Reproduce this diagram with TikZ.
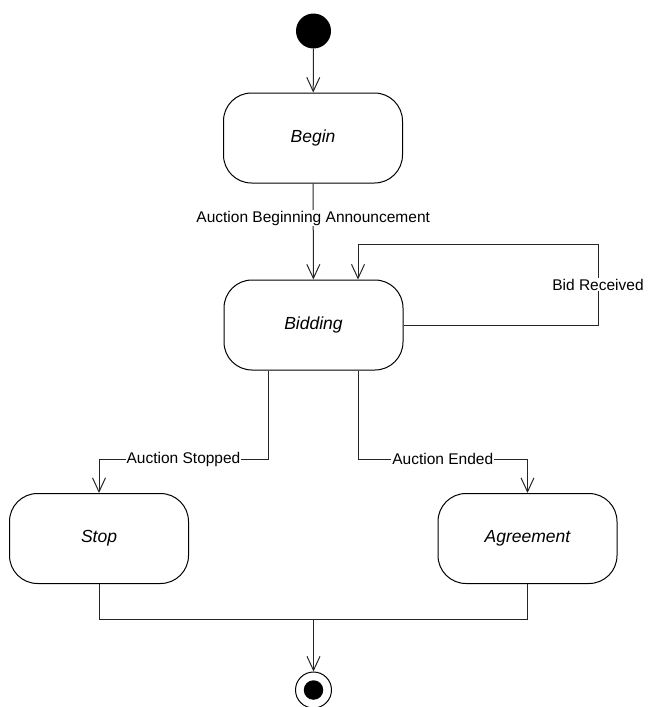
\documentclass[tikz,border=0pt]{standalone}
\usepackage{fontspec}
\setmainfont{Liberation Sans}
\usetikzlibrary{arrows.meta}
\begin{document}
\begin{tikzpicture}[x=1pt,y=-1pt,
 state/.style={draw, rounded corners=28pt, minimum width=179pt, minimum height=90pt,
   font=\fontsize{17.5}{20}\selectfont\itshape, inner sep=0pt, line width=1pt},
 line/.style={line width=1pt, draw=black!85},
 conn/.style={line, -{Straight Barb[length=14pt,width=13pt,line width=1pt]}},
 lab/.style={fill=white, font=\fontsize{15.5}{18}\selectfont, inner sep=1pt}
]
\useasboundingbox (0,0) rectangle (651,707);
\node[circle, fill=black, minimum size=35pt, inner sep=0pt] (start) at (313.5,31) {};
\node[state] (begin) at (313,138) {Begin};
\node[state] (bidding) at (313.5,325) {Bidding};
\node[state] (stop) at (99,538.5) {Stop};
\node[state] (agree) at (527.5,538.5) {Agreement};
\node[circle, draw, minimum size=36pt, inner sep=0pt, line width=1pt] (final) at (313.5,690) {};
\node[circle, fill=black, minimum size=19.5pt, inner sep=0pt] (finaldot) at (final) {};

\coordinate (r1) at (598,325);
\coordinate (r2) at (598,244);
\coordinate (r3) at (358,244);
\coordinate (bl) at (268,459);
\coordinate (br) at (358,459);
\coordinate (j) at (313.5,619.3);

\draw[conn] (start) -- (begin);
\draw[conn] (begin) -- node[lab, pos=0.36] {Auction Beginning Announcement} (bidding);
\draw[conn] (bidding.east |- r1) -- (r1) -- node[lab] {Bid Received} (r2) -- (r3) -- (bidding.north -| r3);
\draw[conn] (bidding.south -| bl) -- (bl) -- node[lab] {Auction Stopped} (stop.north |- bl) -- (stop.north);
\draw[conn] (bidding.south -| br) -- (br) -- node[lab] {Auction Ended} (agree.north |- br) -- (agree.north);
\draw[line] (stop.south) -- (stop.south |- j) -- (agree.south |- j) -- (agree.south);
\draw[conn] (j) -- (final);
\end{tikzpicture}
\end{document}
